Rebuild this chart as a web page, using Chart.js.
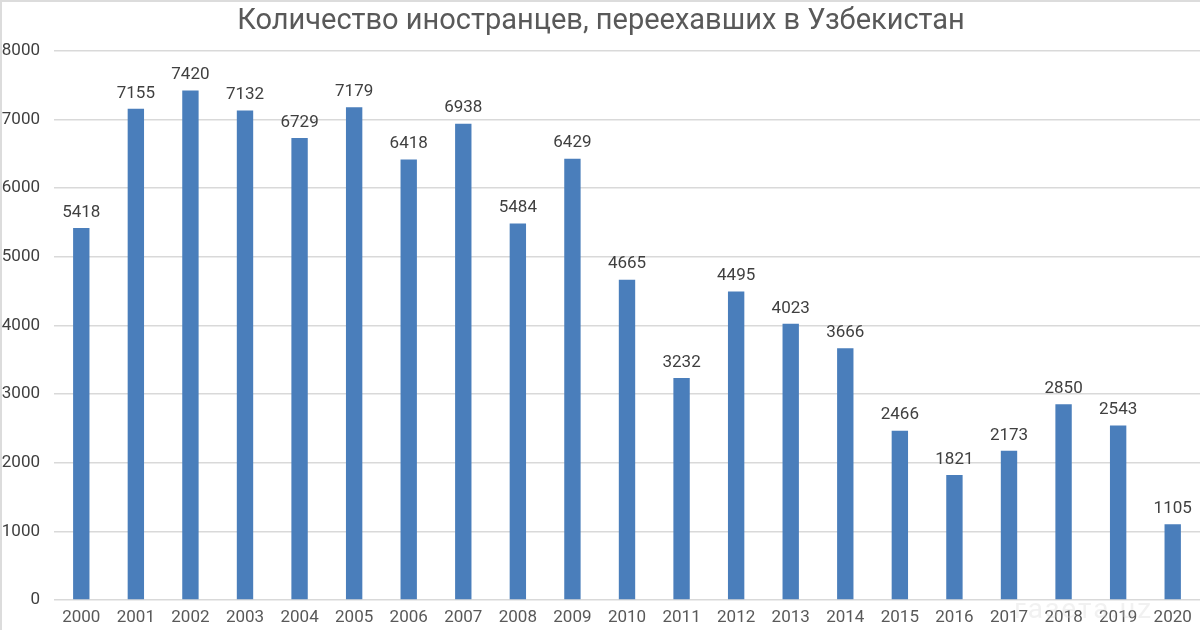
<!DOCTYPE html>
<html>
<head>
<meta charset="utf-8">
<script src="https://cdn.jsdelivr.net/npm/chart.js@4.4.0/dist/chart.umd.min.js"></script>
<style>
	html, body { margin: 0; padding: 0; background: #fff; }
	#wrap { position: relative; width: 1200px; height: 630px; box-sizing: border-box; border-top: 2px solid #dcdcdc; border-left: 2px solid #dcdcdc; }
	#mark { position: absolute; left: 1012px; top: 590px; font: 28px Roboto; color: rgba(210,210,210,0.3); letter-spacing: 2px; }
</style>
</head>
<body>
<div id="wrap">
	<canvas id="migrantsChart" width="1198" height="628"></canvas>
	<div id="mark">газета.uz</div>
</div>
<script>

var years = ['2000', '2001', '2002', '2003', '2004', '2005', '2006', '2007', '2008', '2009', '2010',
	'2011', '2012', '2013', '2014', '2015', '2016', '2017', '2018', '2019', '2020'];
var foreigners = [5418, 7155, 7420, 7132, 6729, 7179, 6418, 6938, 5484, 6429, 4665,
	3232, 4495, 4023, 3666, 2466, 1821, 2173, 2850, 2543, 1105];
var yTicks = [0, 1000, 2000, 3000, 4000, 5000, 6000, 7000, 8000];

// labels above bars
var valueLabels = {
	id: 'valueLabels',
	afterDatasetsDraw: function(chart) {
		var ctx = chart.ctx;
		var meta = chart.getDatasetMeta(0);
		ctx.save();
		ctx.font = '17px Roboto';
		ctx.fillStyle = '#404040';
		ctx.textAlign = 'center';
		ctx.textBaseline = 'bottom';
		for ( var i = 0; i < meta.data.length; i++ ) {
			var bar = meta.data[i];
			ctx.fillText(foreigners[i], bar.x, bar.y - 7);
		}
		ctx.restore();
	}
};

var ctx = document.getElementById('migrantsChart');

var migrantsChart = new Chart(ctx, {
	type: 'bar',
	data: {
		labels: years,
		datasets: [{
			data: foreigners,
			backgroundColor: '#4a7ebb',
			barPercentage: 0.6,
			categoryPercentage: 0.5
		}]
	},
	plugins: [valueLabels],
	options: {
		responsive: false,
		animation: false,
		layout: { padding: 0 },
		plugins: {
			legend: { display: false },
			tooltip: { enabled: false },
			title: {
				display: true,
				text: 'Количество иностранцев, переехавших в Узбекистан',
				color: '#595959',
				font: { family: 'Roboto', size: 29, weight: 'normal' },
				padding: { top: 2, bottom: 12 }
			}
		},
		scales: {
			x: {
				grid: { display: false, drawTicks: false },
				border: { display: false },
				afterFit: function(axis) {
					axis.height = 30;
				},
				ticks: {
					color: '#595959',
					font: { family: 'Roboto', size: 17 },
					padding: 8,
					maxRotation: 0,
					autoSkip: false
				}
			},
			y: {
				min: 0,
				max: 8000,
				afterBuildTicks: function(axis) {
					axis.ticks = yTicks.map(function(v) { return { value: v }; });
				},
				afterFit: function(axis) {
					axis.width = 52;
				},
				grid: { color: '#d9d9d9', lineWidth: 1.5, drawTicks: false },
				border: { display: false },
				ticks: {
					color: '#404040',
					font: { family: 'Roboto', size: 17 },
					padding: 14,
					callback: function(value) { return String(value); }
				}
			}
		}
	}
});

</script>
</body>
</html>
